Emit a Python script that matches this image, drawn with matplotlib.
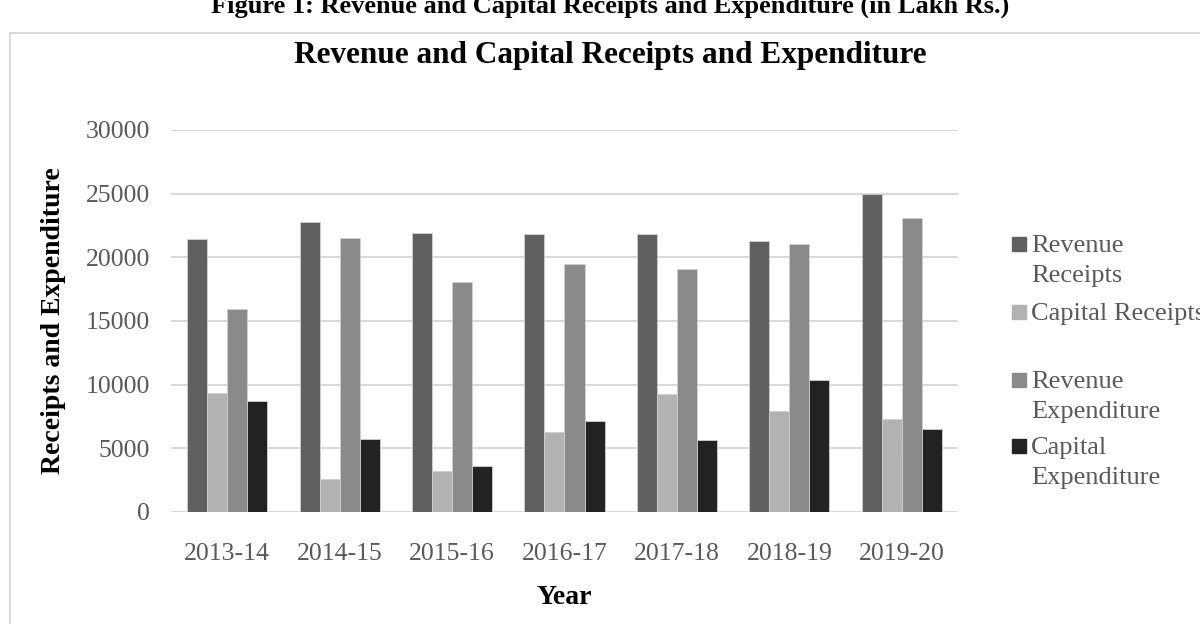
import matplotlib.pyplot as plt
import matplotlib.patches as mpatches
import numpy as np

years = ['2013-14', '2014-15', '2015-16', '2016-17', '2017-18', '2018-19', '2019-20']
revenue_receipts = [21450, 22800, 21900, 21820, 21870, 21280, 25000]
capital_receipts = [9360, 2620, 3210, 6270, 9280, 7970, 7270]
revenue_expenditure = [15950, 21510, 18030, 19470, 19080, 21080, 23070]
capital_expenditure = [8680, 5750, 3580, 7110, 5620, 10350, 6510]

series_names = ['Revenue\nReceipts', 'Capital Receipts', 'Revenue\nExpenditure', 'Capital\nExpenditure']
series_vals = [revenue_receipts, capital_receipts, revenue_expenditure, capital_expenditure]
colors = ['#606060', '#b2b2b2', '#8a8a8a', '#222222']

plt.rcParams['font.family'] = ['Liberation Serif', 'DejaVu Serif']
W, H = 1200, 624
fig = plt.figure(figsize=(12, 6.24), dpi=100)
ax = fig.add_axes([171 / W, 1 - 512 / H, (958 - 171) / W, (512 - 130) / H])

# chart border (runs off the right and bottom edges)
fig.patches.append(mpatches.Rectangle((10 / W, -0.1), 1.2, 1.1 - 33 / H,
                                      transform=fig.transFigure, fill=False,
                                      edgecolor='#d9d9d9', lw=1.5))

x = np.arange(len(years))
bw = 0.178
for i, (vals, c) in enumerate(zip(series_vals, colors)):
    ax.bar(x + (i - 1.5) * bw, vals, bw, color=c, edgecolor='#d0d0d0', linewidth=0.6, zorder=3)

ax.set_xlim(-0.5, len(years) - 0.5)
ax.set_ylim(0, 30000)
ax.set_yticks(np.arange(0, 30001, 5000))
ax.set_xticks(x)
ax.set_xticklabels(years)
ax.yaxis.grid(True, color='#d9d9d9', lw=1.5, zorder=0)
for s in ax.spines.values():
    s.set_visible(False)
ax.tick_params(length=0, labelsize=18.5, labelcolor='#595959')
ax.tick_params(axis='x', pad=22)
ax.tick_params(axis='y', pad=15)
ax.set_xlabel('Year', fontsize=20, fontweight='bold', labelpad=15)
ax.set_ylabel('Receipts and Expenditure', fontsize=20, fontweight='bold', labelpad=14)

fig.text(610 / W, 1 - 63 / H, 'Revenue and Capital Receipts and Expenditure', ha='center', va='baseline',
         fontsize=22.5, fontweight='bold')
fig.text(610 / W, 1 - 13 / H, 'Figure 1: Revenue and Capital Receipts and Expenditure (in Lakh Rs.)',
         ha='center', va='baseline', fontsize=19, fontweight='bold')

# legend, one text line at a time
baselines = [252, 320, 388, 454]
for name, c, b in zip(series_names, colors, baselines):
    fig.patches.append(mpatches.Rectangle((1012 / W, 1 - (b - 1) / H), 14 / W, 14 / H,
                                          transform=fig.transFigure, color=c))
    for k, line in enumerate(name.split('\n')):
        fig.text(1031 / W, 1 - (b + 30 * k) / H, line, ha='left', va='baseline',
                 fontsize=19, color='#595959')

fig.savefig('out.png', dpi=100)
